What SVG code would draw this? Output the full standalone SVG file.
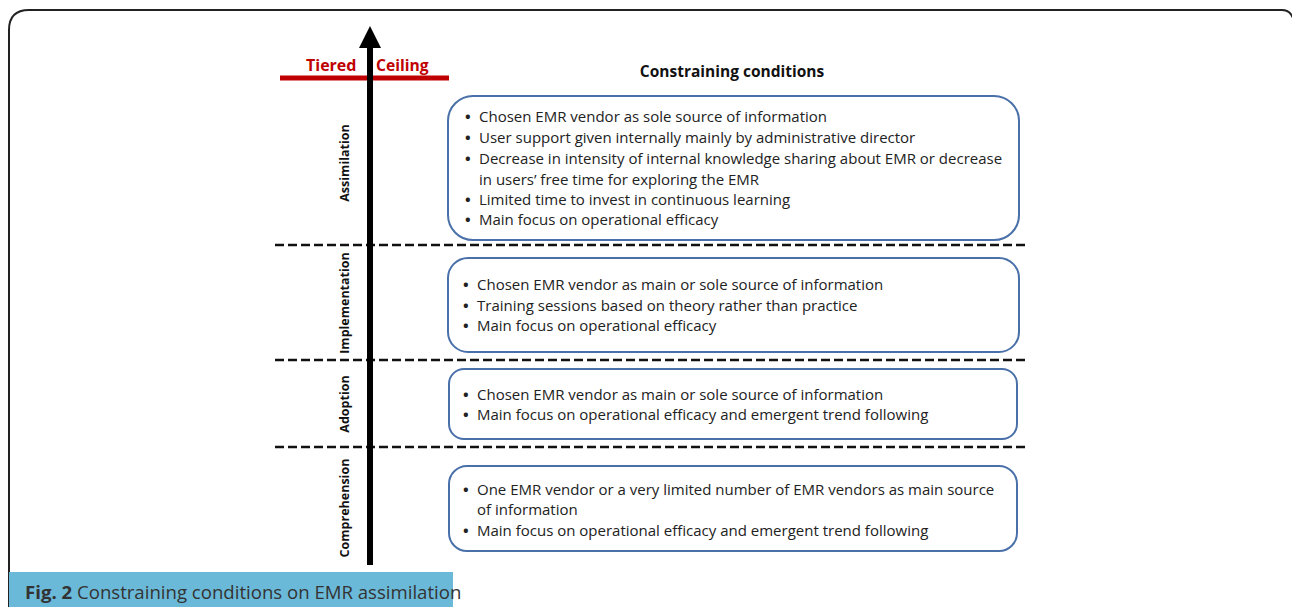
<svg xmlns="http://www.w3.org/2000/svg" width="1292" height="607" viewBox="0 0 1292 607">
<style>
.t{font-family:"Open Sans","Liberation Sans",sans-serif;font-size:15px;fill:#222}
.b{font-weight:bold}
.v{font-family:"Open Sans","Liberation Sans",sans-serif;font-size:12.5px;font-weight:bold;fill:#111}
.box{fill:none;stroke:#4a70aa;stroke-width:2}
.dash{stroke:#111;stroke-width:2.5;stroke-dasharray:9 4}
</style>
<rect width="1292" height="607" fill="#fff"/>
<path d="M9 607 V30 Q9 10 29 10 H1282 Q1290 10 1293 18" fill="none" stroke="#222" stroke-width="2"/>
<g id="connectors">
<line class="dash" x1="275" y1="245" x2="1028" y2="245"/>
<line class="dash" x1="275" y1="360" x2="1028" y2="360"/>
<line class="dash" x1="275" y1="447" x2="1028" y2="447"/>
<line x1="280" y1="78" x2="449" y2="78" stroke="#c00000" stroke-width="5"/>
<line x1="370" y1="565" x2="370" y2="45" stroke="#000" stroke-width="6"/>
<polygon points="370,26 359,48 381,48" fill="#000"/>
</g>
<g id="ceiling">
<text x="306" y="71" font-family="Open Sans,Liberation Sans,sans-serif" font-size="16" font-weight="bold" fill="#c00000">Tiered</text>
<text x="376" y="71" font-family="Open Sans,Liberation Sans,sans-serif" font-size="15.6" font-weight="bold" fill="#c00000">Ceiling</text>
</g>
<g id="header"><text x="732" y="77" text-anchor="middle" font-family="Open Sans,Liberation Sans,sans-serif" font-size="15.5" font-weight="bold" fill="#111">Constraining conditions</text></g>
<g id="labels">
<text class="v" transform="translate(349,163) rotate(-90)" text-anchor="middle">Assimilation</text>
<text class="v" transform="translate(349,303) rotate(-90)" text-anchor="middle">Implementation</text>
<text class="v" transform="translate(349,404) rotate(-90)" text-anchor="middle">Adoption</text>
<text class="v" transform="translate(349,508) rotate(-90)" text-anchor="middle">Comprehension</text>
</g>
<g id="box-assimilation">
<rect class="box" x="448" y="96" width="571" height="144" rx="25"/>
<text class="t"><tspan class="b" x="465" y="122">•</tspan><tspan x="479" y="122">Chosen EMR vendor as sole source of information</tspan>
<tspan class="b" x="465" y="143">•</tspan><tspan x="479" y="143">User support given internally mainly by administrative director</tspan>
<tspan class="b" x="465" y="164">•</tspan><tspan x="479" y="164">Decrease in intensity of internal knowledge sharing about EMR or decrease</tspan>
<tspan x="479" y="185">in users’ free time for exploring the EMR</tspan>
<tspan class="b" x="465" y="205">•</tspan><tspan x="479" y="205">Limited time to invest in continuous learning</tspan>
<tspan class="b" x="465" y="225">•</tspan><tspan x="479" y="225">Main focus on operational efficacy</tspan></text>
</g>
<g id="box-implementation">
<rect class="box" x="448" y="258" width="571" height="94" rx="20"/>
<text class="t"><tspan class="b" x="463" y="290">•</tspan><tspan x="477" y="290">Chosen EMR vendor as main or sole source of information</tspan>
<tspan class="b" x="463" y="311">•</tspan><tspan x="477" y="311">Training sessions based on theory rather than practice</tspan>
<tspan class="b" x="463" y="331">•</tspan><tspan x="477" y="331">Main focus on operational efficacy</tspan></text>
</g>
<g id="box-adoption">
<rect class="box" x="449" y="369" width="568" height="70" rx="15"/>
<text class="t"><tspan class="b" x="463" y="400">•</tspan><tspan x="477" y="400">Chosen EMR vendor as main or sole source of information</tspan>
<tspan class="b" x="463" y="420">•</tspan><tspan x="477" y="420">Main focus on operational efficacy and emergent trend following</tspan></text>
</g>
<g id="box-comprehension">
<rect class="box" x="449" y="466" width="568" height="85" rx="18"/>
<text class="t"><tspan class="b" x="463" y="495">•</tspan><tspan x="477" y="495">One EMR vendor or a very limited number of EMR vendors as main source</tspan>
<tspan x="477" y="515">of information</tspan>
<tspan class="b" x="463" y="536">•</tspan><tspan x="477" y="536">Main focus on operational efficacy and emergent trend following</tspan></text>
</g>
<g id="caption">
<rect x="9" y="572" width="444" height="35" fill="#6bb9d9"/>
<text x="25" y="599" font-family="Open Sans,Liberation Sans,sans-serif" font-size="18.6" fill="#333"><tspan font-weight="bold">Fig. 2</tspan> Constraining conditions on EMR assimilation</text>
</g>
</svg>
